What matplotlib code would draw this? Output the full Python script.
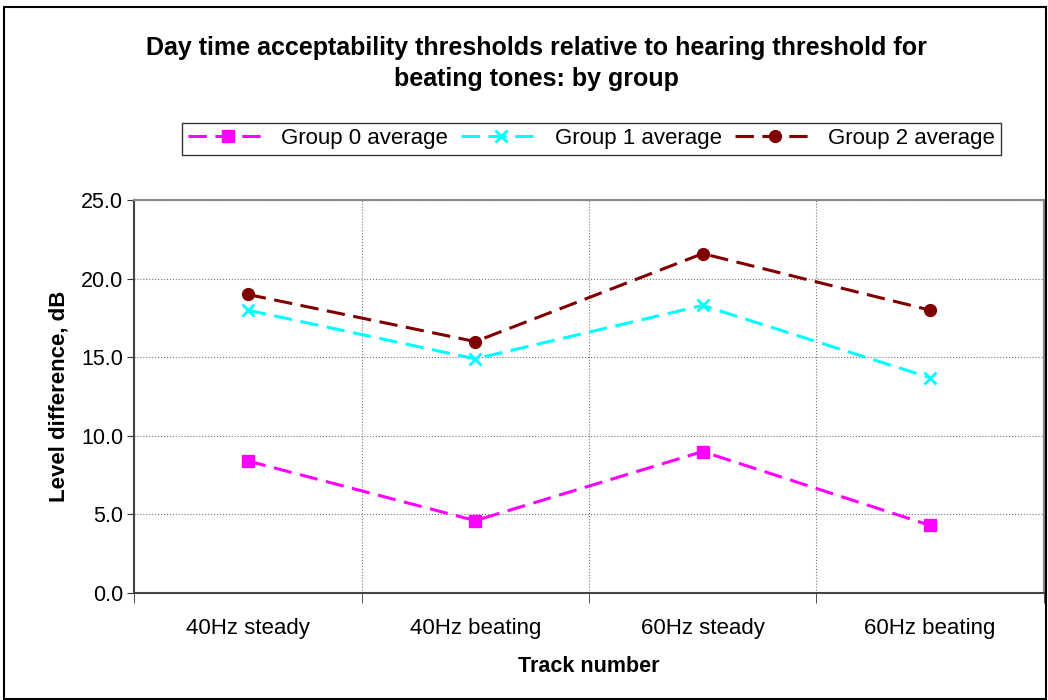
import numpy as np
import matplotlib.pyplot as plt
from matplotlib.patches import Rectangle

plt.rcParams['font.family'] = ['Liberation Sans', 'DejaVu Sans']

tracks = ['40Hz steady', '40Hz beating', '60Hz steady', '60Hz beating']
group0 = [8.4, 4.6, 9.0, 4.3]
group1 = [18.0, 14.9, 18.3, 13.7]
group2 = [19.0, 16.0, 21.6, 18.0]

fig = plt.figure(figsize=(10.48, 7.0), dpi=100)
ax = fig.add_axes([0.128, 0.153, 0.868, 0.561])

x = np.arange(len(tracks))
dash = (0, (6, 2.8))
l0, = ax.plot(x, group0, color='#ff00ff', ls=dash, lw=2.2, marker='s', ms=9,
              label='Group 0 average')
l1, = ax.plot(x, group1, color='#00ffff', ls=dash, lw=2.2, marker='x', ms=9,
              mew=2, label='Group 1 average')
l2, = ax.plot(x, group2, color='#800000', ls=dash, lw=2.2, marker='o', ms=8.5,
              label='Group 2 average')

ax.set_xlim(-0.5, 3.5)
ax.set_ylim(0, 25)
yt = np.arange(0, 25.1, 5)
ax.set_yticks(yt)
ax.set_yticklabels([f'{v:.1f}' for v in yt], fontsize=15.5)
ax.set_xticks(x)
ax.set_xticklabels(tracks, fontsize=16)
ax.tick_params(axis='x', length=0, pad=18)
ax.set_xticks(np.arange(-0.5, 3.6, 1), minor=True)
ax.tick_params(axis='x', which='minor', length=7, direction='out', color='#333333')
ax.tick_params(axis='y', length=5, direction='out', color='#333333', pad=3)
ax.grid(True, which='minor', axis='x', color='#777777', ls=':', lw=0.8)
ax.grid(True, which='major', axis='y', color='#777777', ls=':', lw=0.8)

for s in ['left', 'bottom']:
    ax.spines[s].set_color('#444444')
    ax.spines[s].set_linewidth(1.5)
for s in ['top', 'right']:
    ax.spines[s].set_color('#888888')
    ax.spines[s].set_linewidth(1.5)

ax.set_xlabel('Track number', fontsize=15.5, fontweight='bold', labelpad=12)
ax.set_ylabel('Level difference, dB', fontsize=16, fontweight='bold', labelpad=8)

fig.text(0.512, 0.909, 'Day time acceptability thresholds relative to hearing threshold for\nbeating tones: by group',
         ha='center', va='center', fontsize=18, fontweight='bold', linespacing=1.35)

leg = fig.legend(handles=[l0, l1, l2], loc='center', bbox_to_anchor=(0.5645, 0.802), ncol=3,
                 fontsize=16, frameon=True, fancybox=False, edgecolor='black',
                 handlelength=3.6, columnspacing=0.6, handletextpad=0.6,
                 borderpad=0.25)
leg.get_frame().set_linewidth(1.0)

fig.patches.append(Rectangle((0.004, 0.002), 0.994, 0.988, transform=fig.transFigure,
                             fill=False, edgecolor='black', lw=1.5))

fig.savefig('out.png', dpi=100)
